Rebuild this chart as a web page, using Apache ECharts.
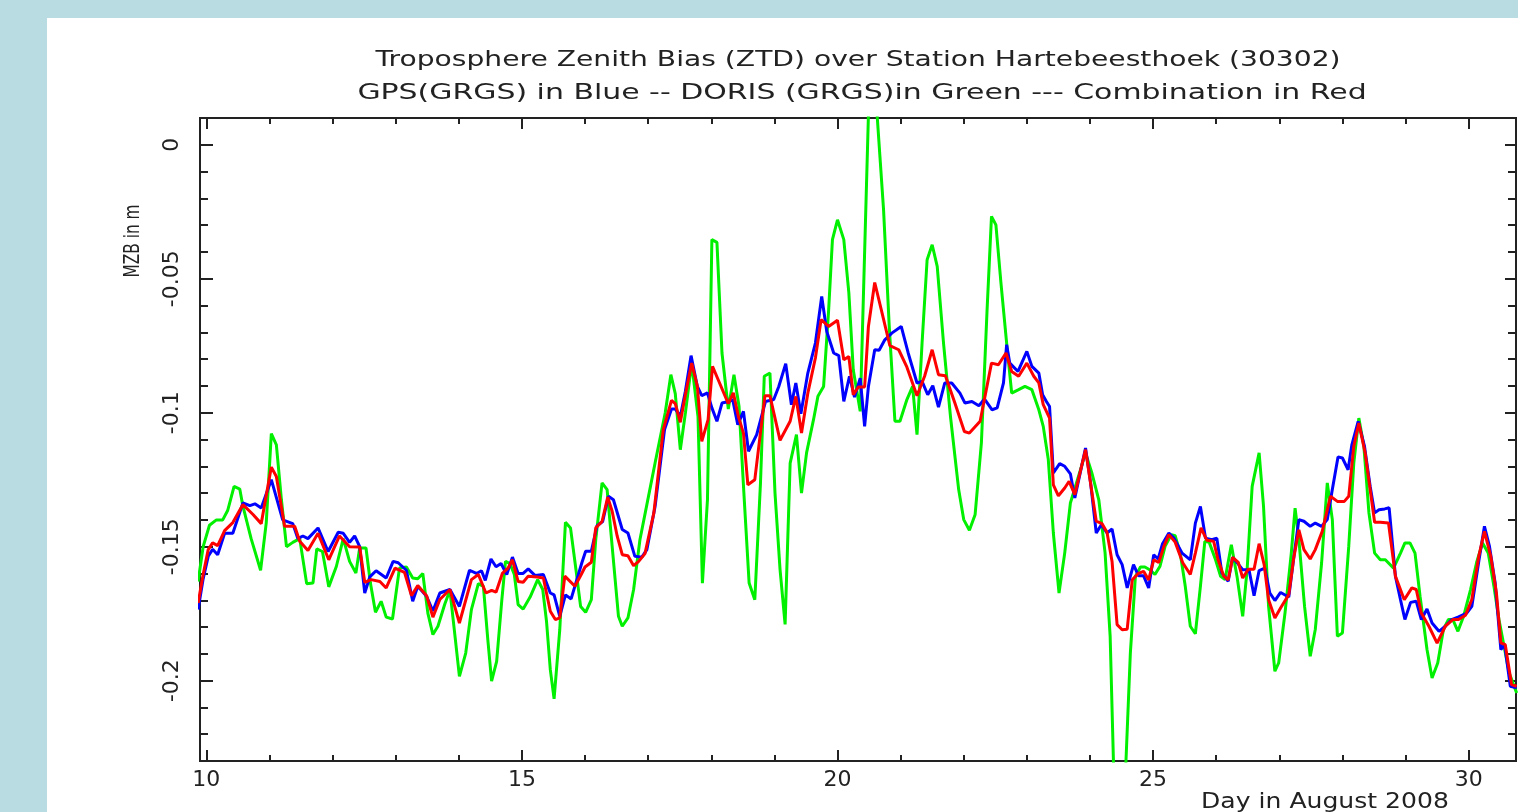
<!DOCTYPE html>
<html>
<head>
<meta charset="utf-8">
<script src="https://cdn.jsdelivr.net/npm/echarts@6/dist/echarts.min.js"></script>
<style>
html,body{margin:0;padding:0;background:#b8dce2;}
#chart{width:1518px;height:812px;}
</style>
</head>
<body>
<div id="chart"></div>
<script>
// ---------------- DATA ----------------
const titleLine1 = 'Troposphere Zenith Bias (ZTD) over Station Hartebeesthoek (30302)';
const titleLine2 = 'GPS(GRGS) in Blue -- DORIS (GRGS)in Green --- Combination in Red';
const xAxisTitle = 'Day in August 2008';
const yAxisTitle = 'MZB in m';

const xMajorTicks = [10, 15, 20, 25, 30];
const xMinorTicks = [10,11,12,13,14,15,16,17,18,19,20,21,22,23,24,25,26,27,28,29,30];
const yMajorTicks = [0, -0.05, -0.1, -0.15, -0.2];
const yMinorTicks = [0.01,0,-0.01,-0.02,-0.03,-0.04,-0.05,-0.06,-0.07,-0.08,-0.09,-0.1,-0.11,-0.12,-0.13,-0.14,-0.15,-0.16,-0.17,-0.18,-0.19,-0.2,-0.21,-0.22];

// GPS (GRGS) - blue
const gpsDays = [9.87,9.95,10.03,10.10,10.18,10.29,10.42,10.58,10.69,10.77,10.87,11.03,11.21,11.37,11.45,11.53,11.61,11.77,11.93,12.09,12.17,12.27,12.35,12.43,12.51,12.59,12.69,12.85,12.96,13.04,13.17,13.27,13.35,13.49,13.59,13.70,13.86,14.01,14.17,14.28,14.36,14.42,14.51,14.59,14.67,14.76,14.85,14.94,15.02,15.10,15.21,15.34,15.45,15.51,15.60,15.69,15.78,15.95,16.01,16.10,16.19,16.28,16.37,16.45,16.59,16.68,16.79,16.90,16.98,17.11,17.26,17.37,17.43,17.51,17.59,17.68,17.78,17.85,17.94,18.01,18.09,18.17,18.28,18.34,18.42,18.51,18.59,18.72,18.86,18.99,19.07,19.18,19.27,19.34,19.42,19.53,19.65,19.75,19.83,19.94,20.02,20.10,20.19,20.27,20.36,20.43,20.49,20.59,20.66,20.75,20.86,21.01,21.12,21.26,21.34,21.43,21.51,21.60,21.70,21.81,21.94,22.02,22.13,22.24,22.33,22.45,22.53,22.63,22.68,22.73,22.86,23.00,23.08,23.19,23.25,23.31,23.36,23.42,23.52,23.60,23.69,23.76,23.93,24.01,24.10,24.18,24.27,24.35,24.43,24.51,24.59,24.69,24.77,24.85,24.93,25.01,25.08,25.15,25.25,25.33,25.46,25.59,25.67,25.75,25.83,25.93,26.01,26.09,26.19,26.26,26.35,26.42,26.52,26.60,26.68,26.77,26.85,26.93,27.02,27.15,27.23,27.31,27.39,27.49,27.57,27.67,27.76,27.84,27.93,28.00,28.09,28.15,28.25,28.35,28.44,28.51,28.58,28.67,28.74,28.84,28.92,28.99,29.08,29.17,29.25,29.34,29.42,29.53,29.63,29.73,29.84,29.97,30.05,30.16,30.25,30.33,30.42,30.51,30.57,30.66,30.76];
const gpsVals = [-0.1735,-0.162,-0.1536,-0.151,-0.153,-0.145,-0.145,-0.1337,-0.1347,-0.134,-0.1356,-0.125,-0.140,-0.1414,-0.147,-0.146,-0.147,-0.143,-0.1518,-0.1446,-0.145,-0.1484,-0.146,-0.150,-0.1673,-0.1613,-0.159,-0.1617,-0.1555,-0.156,-0.1588,-0.1704,-0.1648,-0.1685,-0.174,-0.1673,-0.166,-0.1723,-0.1588,-0.160,-0.159,-0.1626,-0.1546,-0.1575,-0.1563,-0.1604,-0.1539,-0.160,-0.160,-0.1583,-0.1608,-0.1604,-0.1673,-0.168,-0.176,-0.168,-0.1695,-0.156,-0.1517,-0.1517,-0.1422,-0.1406,-0.1312,-0.1325,-0.1436,-0.1449,-0.1536,-0.1539,-0.1511,-0.135,-0.1063,-0.0986,-0.0986,-0.1014,-0.092,-0.0787,-0.0902,-0.0936,-0.0926,-0.0982,-0.1032,-0.0964,-0.0958,-0.0951,-0.1045,-0.0995,-0.1144,-0.1082,-0.0958,-0.0951,-0.0902,-0.0817,-0.097,-0.0889,-0.1004,-0.0852,-0.074,-0.0566,-0.0697,-0.0777,-0.0787,-0.0958,-0.0864,-0.0942,-0.0871,-0.1051,-0.0902,-0.0765,-0.0767,-0.0728,-0.0703,-0.0678,-0.0777,-0.0889,-0.0883,-0.0933,-0.0899,-0.0979,-0.0889,-0.0889,-0.0927,-0.0964,-0.0958,-0.0974,-0.0949,-0.0989,-0.0982,-0.0889,-0.0746,-0.0815,-0.0846,-0.0771,-0.0827,-0.0852,-0.0933,-0.0958,-0.0977,-0.1225,-0.119,-0.12,-0.1228,-0.1318,-0.1132,-0.1262,-0.1449,-0.1418,-0.1449,-0.1434,-0.153,-0.1567,-0.1654,-0.1567,-0.1609,-0.1609,-0.1654,-0.153,-0.1546,-0.1489,-0.1449,-0.1468,-0.1524,-0.1549,-0.1412,-0.135,-0.1468,-0.1474,-0.1468,-0.1598,-0.1629,-0.154,-0.1565,-0.1586,-0.1586,-0.1683,-0.1589,-0.158,-0.1673,-0.1701,-0.1671,-0.1688,-0.154,-0.1399,-0.1405,-0.1424,-0.1412,-0.1424,-0.1399,-0.1287,-0.1165,-0.1169,-0.1213,-0.1119,-0.1032,-0.1126,-0.1275,-0.1374,-0.1362,-0.1359,-0.1355,-0.1611,-0.1698,-0.1772,-0.1708,-0.1704,-0.1772,-0.1733,-0.1785,-0.1816,-0.1797,-0.1772,-0.1762,-0.1748,-0.1723,-0.1555,-0.1424,-0.1499,-0.1636,-0.1884,-0.1866,-0.2021,-0.2027];

// DORIS (GRGS) - green
const dorisDays = [9.87,9.95,10.05,10.16,10.26,10.34,10.44,10.53,10.58,10.71,10.86,10.95,11.03,11.11,11.19,11.27,11.37,11.48,11.59,11.69,11.75,11.84,11.94,12.06,12.17,12.27,12.37,12.43,12.53,12.60,12.68,12.77,12.85,12.95,13.06,13.17,13.27,13.35,13.43,13.51,13.59,13.67,13.78,13.86,13.94,14.01,14.11,14.20,14.31,14.39,14.46,14.52,14.60,14.68,14.74,14.81,14.88,14.94,15.02,15.13,15.25,15.33,15.39,15.45,15.51,15.60,15.69,15.77,15.86,15.93,16.01,16.10,16.17,16.27,16.35,16.43,16.53,16.59,16.68,16.77,16.87,16.99,17.11,17.27,17.36,17.43,17.51,17.59,17.69,17.79,17.86,17.94,18.01,18.09,18.17,18.27,18.36,18.44,18.52,18.60,18.69,18.78,18.84,18.93,19.01,19.09,19.17,19.25,19.35,19.43,19.51,19.62,19.69,19.78,19.86,19.92,20.00,20.10,20.18,20.25,20.36,20.53,20.73,20.82,20.91,20.99,21.10,21.19,21.26,21.34,21.42,21.50,21.58,21.68,21.79,21.92,22.00,22.09,22.18,22.28,22.37,22.44,22.51,22.59,22.68,22.76,22.87,22.97,23.08,23.19,23.26,23.34,23.42,23.51,23.60,23.69,23.77,23.93,24.03,24.14,24.24,24.32,24.45,24.64,24.72,24.80,24.87,24.96,25.03,25.11,25.19,25.29,25.35,25.43,25.51,25.59,25.67,25.75,25.82,25.89,25.99,26.07,26.14,26.24,26.33,26.42,26.49,26.57,26.68,26.75,26.83,26.93,26.99,27.09,27.19,27.25,27.31,27.40,27.49,27.57,27.67,27.76,27.84,27.92,28.00,28.10,28.18,28.26,28.34,28.42,28.51,28.60,28.68,28.81,28.92,28.99,29.07,29.15,29.23,29.34,29.42,29.51,29.60,29.68,29.75,29.83,29.92,30.03,30.13,30.22,30.31,30.40,30.48,30.56,30.64,30.76];
const dorisVals = [-0.163,-0.150,-0.142,-0.140,-0.140,-0.1364,-0.1275,-0.1285,-0.1349,-0.147,-0.1588,-0.141,-0.1078,-0.112,-0.1325,-0.150,-0.1484,-0.147,-0.1638,-0.1636,-0.1508,-0.1518,-0.165,-0.1574,-0.147,-0.1555,-0.1598,-0.1505,-0.1505,-0.1636,-0.1745,-0.1704,-0.1763,-0.177,-0.158,-0.1576,-0.1617,-0.162,-0.160,-0.1748,-0.1828,-0.1797,-0.1713,-0.1663,-0.1834,-0.1984,-0.1897,-0.1735,-0.1638,-0.1648,-0.1847,-0.2002,-0.1928,-0.1704,-0.1555,-0.1563,-0.1604,-0.1716,-0.1733,-0.1688,-0.1623,-0.166,-0.1779,-0.1959,-0.2068,-0.181,-0.1409,-0.143,-0.1592,-0.1723,-0.1745,-0.1698,-0.1474,-0.1262,-0.1287,-0.1499,-0.176,-0.1797,-0.1766,-0.166,-0.1474,-0.1331,-0.1188,-0.1001,-0.0858,-0.0929,-0.1138,-0.1001,-0.0815,-0.1014,-0.1636,-0.1325,-0.0354,-0.0364,-0.0777,-0.0986,-0.0858,-0.0976,-0.1312,-0.1636,-0.1698,-0.1262,-0.0864,-0.0852,-0.130,-0.1586,-0.179,-0.1188,-0.1082,-0.130,-0.115,-0.1026,-0.0939,-0.0902,-0.0616,-0.0354,-0.028,-0.0354,-0.0553,-0.084,-0.0995,0.045,-0.0243,-0.0678,-0.1032,-0.1032,-0.0951,-0.0902,-0.1082,-0.074,-0.0429,-0.0373,-0.0454,-0.074,-0.1014,-0.1287,-0.1399,-0.1439,-0.1381,-0.1113,-0.0616,-0.0267,-0.0299,-0.0516,-0.074,-0.0927,-0.0914,-0.0902,-0.0914,-0.0989,-0.1051,-0.1175,-0.1449,-0.1673,-0.1524,-0.1337,-0.1275,-0.115,-0.1225,-0.1325,-0.1524,-0.1835,-0.300,-0.1897,-0.1611,-0.1576,-0.1576,-0.1588,-0.1604,-0.1573,-0.1499,-0.1455,-0.1459,-0.1524,-0.1648,-0.1797,-0.1825,-0.1648,-0.148,-0.1484,-0.1549,-0.1611,-0.1623,-0.1493,-0.1611,-0.176,-0.1586,-0.1275,-0.115,-0.135,-0.1723,-0.1965,-0.1934,-0.1748,-0.1524,-0.1356,-0.1474,-0.1723,-0.1909,-0.1809,-0.1561,-0.1262,-0.1399,-0.1834,-0.1822,-0.1499,-0.1188,-0.102,-0.1126,-0.1374,-0.1524,-0.1549,-0.1549,-0.158,-0.1524,-0.1486,-0.1486,-0.1524,-0.1685,-0.1884,-0.199,-0.1934,-0.1809,-0.1772,-0.1772,-0.1816,-0.176,-0.166,-0.1555,-0.1486,-0.1524,-0.1648,-0.1772,-0.1871,-0.197,-0.2046];

// Combination - red
const combDays = [9.87,9.95,10.03,10.10,10.18,10.29,10.42,10.58,10.74,10.87,11.03,11.11,11.24,11.40,11.48,11.61,11.77,11.94,12.11,12.27,12.43,12.51,12.61,12.75,12.85,12.99,13.14,13.25,13.35,13.49,13.59,13.70,13.86,14.01,14.20,14.31,14.43,14.52,14.59,14.69,14.78,14.85,14.94,15.02,15.10,15.24,15.34,15.45,15.53,15.60,15.68,15.84,15.94,16.00,16.10,16.17,16.27,16.36,16.43,16.51,16.59,16.68,16.77,16.85,16.95,17.09,17.24,17.37,17.43,17.51,17.59,17.69,17.78,17.85,17.95,18.02,18.11,18.27,18.35,18.43,18.51,18.58,18.69,18.85,18.93,19.09,19.25,19.34,19.43,19.53,19.65,19.74,19.86,20.00,20.10,20.18,20.25,20.33,20.43,20.49,20.59,20.70,20.83,20.97,21.10,21.26,21.38,21.50,21.60,21.71,21.86,22.01,22.09,22.26,22.44,22.55,22.67,22.76,22.87,23.00,23.11,23.19,23.26,23.36,23.42,23.50,23.60,23.67,23.76,23.93,24.10,24.19,24.27,24.35,24.43,24.51,24.59,24.67,24.76,24.85,24.93,25.01,25.09,25.17,25.25,25.35,25.47,25.59,25.67,25.76,25.85,25.96,26.03,26.12,26.19,26.26,26.35,26.42,26.51,26.60,26.68,26.76,26.83,26.93,27.02,27.15,27.23,27.31,27.39,27.49,27.57,27.68,27.81,27.92,28.03,28.10,28.18,28.26,28.36,28.51,28.60,28.73,28.84,28.98,29.10,29.17,29.25,29.37,29.50,29.63,29.75,29.84,29.95,30.05,30.16,30.25,30.35,30.44,30.51,30.58,30.68,30.76];
const combVals = [-0.171,-0.1604,-0.1511,-0.1486,-0.1496,-0.144,-0.141,-0.1343,-0.138,-0.1414,-0.1203,-0.1238,-0.1424,-0.1424,-0.148,-0.1514,-0.145,-0.1549,-0.146,-0.150,-0.1501,-0.1633,-0.1623,-0.163,-0.1654,-0.158,-0.1596,-0.1683,-0.1645,-0.1683,-0.1763,-0.1697,-0.166,-0.1785,-0.1623,-0.1604,-0.1673,-0.1663,-0.167,-0.160,-0.158,-0.1549,-0.163,-0.1633,-0.161,-0.1613,-0.1617,-0.1741,-0.1772,-0.1766,-0.161,-0.1648,-0.1604,-0.1576,-0.1558,-0.143,-0.1406,-0.1315,-0.1368,-0.1461,-0.153,-0.1534,-0.1571,-0.1555,-0.1526,-0.1375,-0.1063,-0.0954,-0.0966,-0.1036,-0.0933,-0.0815,-0.0902,-0.1107,-0.1026,-0.0827,-0.0877,-0.0966,-0.0926,-0.1014,-0.1076,-0.1269,-0.125,-0.0937,-0.0937,-0.1103,-0.1032,-0.0939,-0.1076,-0.0927,-0.0796,-0.0653,-0.0678,-0.0655,-0.0802,-0.079,-0.0933,-0.0904,-0.0904,-0.0678,-0.0514,-0.0622,-0.075,-0.0765,-0.083,-0.0937,-0.0864,-0.0765,-0.0858,-0.0862,-0.0964,-0.107,-0.1076,-0.1032,-0.0815,-0.0821,-0.0777,-0.0846,-0.0864,-0.0815,-0.0864,-0.0889,-0.097,-0.102,-0.1269,-0.131,-0.1281,-0.1256,-0.1306,-0.1138,-0.1405,-0.1414,-0.1446,-0.1555,-0.1791,-0.181,-0.1808,-0.1624,-0.1601,-0.1592,-0.1624,-0.1549,-0.1559,-0.150,-0.1455,-0.1483,-0.156,-0.1604,-0.1524,-0.143,-0.1476,-0.148,-0.1549,-0.161,-0.1624,-0.154,-0.1559,-0.1617,-0.1584,-0.1584,-0.1489,-0.1567,-0.1698,-0.1766,-0.1729,-0.1679,-0.154,-0.1437,-0.1511,-0.1546,-0.1511,-0.1443,-0.1312,-0.1331,-0.1331,-0.1312,-0.1126,-0.1039,-0.115,-0.1409,-0.1409,-0.1412,-0.1611,-0.1698,-0.1654,-0.166,-0.1748,-0.1797,-0.186,-0.1797,-0.1772,-0.1772,-0.1756,-0.1697,-0.1536,-0.1443,-0.1536,-0.1673,-0.1859,-0.1866,-0.2015,-0.2021];

// ---------------- CHART ----------------
const zip = (xs, ys) => xs.map((x, i) => [x, ys[i]]);
const FONT = 'DejaVu Sans';
const AX = '#222';
const X_MIN = 9.9, X_MAX = 30.75, Y_MIN = -0.23, Y_MAX = 0.01;

function xAx(position, ticks, len, labels) {
  return {
    type: 'value', position: position, min: X_MIN, max: X_MAX,
    axisLine: { show: true, onZero: false, lineStyle: { color: AX, width: 2 } },
    axisTick: { show: true, inside: true, length: len, customValues: ticks, lineStyle: { color: AX, width: 2 } },
    axisLabel: labels ? { show: true, customValues: ticks, margin: 8, fontFamily: FONT, fontSize: 22, color: AX } : { show: false },
    splitLine: { show: false }
  };
}
function yAx(position, ticks, len, labels) {
  return {
    type: 'value', position: position, min: Y_MIN, max: Y_MAX,
    axisLine: { show: true, onZero: false, lineStyle: { color: AX, width: 2 } },
    axisTick: { show: true, inside: true, length: len, customValues: ticks, lineStyle: { color: AX, width: 2 } },
    axisLabel: labels ? { show: true, customValues: ticks, rotate: 90, margin: 17, fontFamily: FONT, fontSize: 22, color: AX } : { show: false },
    splitLine: { show: false }
  };
}

const chart = echarts.init(document.getElementById('chart'), null, { renderer: 'canvas' });
chart.setOption({
  animation: false,
  backgroundColor: '#b8dce2',
  grid: { left: 200, top: 118, width: 1316, height: 643, containLabel: false },
  graphic: [
    { type: 'rect', z: -10, shape: { x: 47, y: 18, width: 1518 - 47, height: 812 - 18 }, style: { fill: '#ffffff' } },
    { type: 'text', x: 858, y: 60, scaleX: 1.28, style: { text: titleLine1, textAlign: 'center', textVerticalAlign: 'middle', font: '22px "DejaVu Sans"', fill: AX } },
    { type: 'text', x: 862, y: 93, scaleX: 1.36, style: { text: titleLine2, textAlign: 'center', textVerticalAlign: 'middle', font: '22px "DejaVu Sans"', fill: AX } },
    { type: 'text', x: 1325, y: 802, scaleX: 1.14, style: { text: xAxisTitle, textAlign: 'center', textVerticalAlign: 'middle', font: '22px "DejaVu Sans"', fill: AX } },
    { type: 'text', x: 133, y: 241, rotation: Math.PI / 2, scaleX: 0.70, style: { text: yAxisTitle, textAlign: 'center', textVerticalAlign: 'middle', font: '22px "DejaVu Sans"', fill: AX } }
  ],
  xAxis: [
    xAx('bottom', xMajorTicks, 11, true),
    xAx('bottom', xMinorTicks, 6, false),
    xAx('top', xMajorTicks, 11, false),
    xAx('top', xMinorTicks, 6, false)
  ],
  yAxis: [
    yAx('left', yMajorTicks, 13, true),
    yAx('left', yMinorTicks, 8, false),
    yAx('right', yMajorTicks, 11, false),
    yAx('right', yMinorTicks, 8, false)
  ],
  series: [
    { name: 'DORIS (GRGS)', type: 'line', xAxisIndex: 0, yAxisIndex: 0, data: zip(dorisDays, dorisVals), showSymbol: false, symbol: 'none', clip: true, lineStyle: { color: '#00f000', width: 3 } },
    { name: 'GPS (GRGS)', type: 'line', xAxisIndex: 0, yAxisIndex: 0, data: zip(gpsDays, gpsVals), showSymbol: false, symbol: 'none', clip: true, lineStyle: { color: '#0000ff', width: 3 } },
    { name: 'Combination', type: 'line', xAxisIndex: 0, yAxisIndex: 0, data: zip(combDays, combVals), showSymbol: false, symbol: 'none', clip: true, lineStyle: { color: '#ff0000', width: 3 } }
  ]
});
</script>
</body>
</html>
